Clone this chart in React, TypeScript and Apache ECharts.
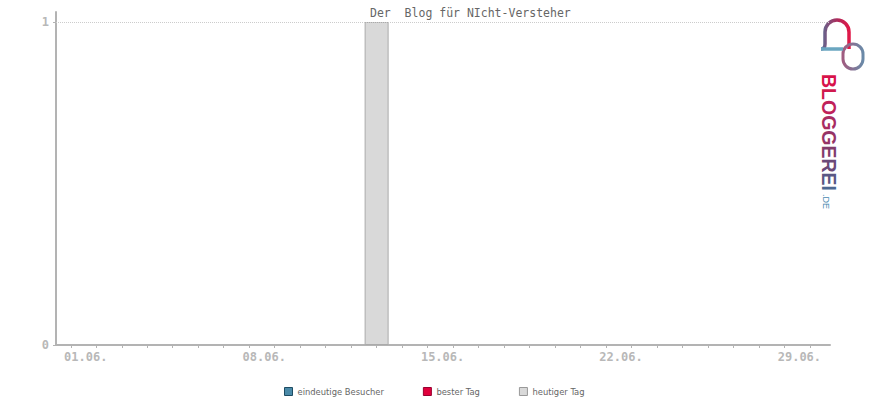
import React, { useEffect, useRef } from "react";
import * as echarts from "echarts";

const days = [
  "01.06.", "02.06.", "03.06.", "04.06.", "05.06.", "06.06.", "07.06.", "08.06.", "09.06.", "10.06.",
  "11.06.", "12.06.", "13.06.", "14.06.", "15.06.", "16.06.", "17.06.", "18.06.", "19.06.", "20.06.",
  "21.06.", "22.06.", "23.06.", "24.06.", "25.06.", "26.06.", "27.06.", "28.06.", "29.06.", "30.06.",
];
const labelDays = ["01.06.", "08.06.", "15.06.", "22.06.", "29.06."];
const visitors = [0, 0, 0, 0, 0, 0, 0, 0, 0, 0, 0, 0, 0, 0, 0, 0, 0, 0, 0, 0, 0, 0, 0, 0, 0, 0, 0, 0, 0, 0];
const bestDays: string[] = [];
const bestValues: number[] = [];
const todayDays = ["13.06."];
const todayValues = [1];
const yTicks = [0, 1];
const seriesNames = ["eindeutige Besucher", "bester Tag", "heutiger Tag"];
const titleText = "Der  Blog für NIcht-Versteher";
const logoLetters = ["B", "L", "O", "G", "G", "E", "R", "E", "I"];
const logoColors = ["#d8124a", "#d01a4e", "#c0225a", "#a82c62", "#963466", "#823c6c", "#6c4a78", "#5a5884", "#4d6890"];

export default function App() {
  const ref = useRef<HTMLDivElement>(null);
  useEffect(() => {
    document.body.style.margin = "0";
    if (!ref.current) return;
    try {
      echarts.graphic.registerShape(
        "bubble",
        echarts.graphic.extendPath(
          "M1 31 Q5 31 5 26 L5 14 A12 12 0 0 1 29 14 L29 31",
          {}
        )
      );
    } catch (e) {}
    const chart = echarts.init(ref.current, null, { renderer: "svg" });
    const mono = "'DejaVu Sans Mono', monospace";
    const logoFont = "bold 19.5px 'Liberation Sans', Arial, sans-serif";
    const cv = document.createElement("canvas").getContext("2d");
    let widths = logoLetters.map(() => 13);
    if (cv) {
      cv.font = logoFont;
      widths = logoLetters.map((l) => cv.measureText(l).width);
    }
    const grad1 = new echarts.graphic.LinearGradient(0, 0, 1, 0, [
      { offset: 0, color: "#5a6c94" },
      { offset: 0.6, color: "#b02a5a" },
      { offset: 1, color: "#e01848" },
    ]);
    const grad2 = new echarts.graphic.LinearGradient(0, 0, 1, 0, [
      { offset: 0, color: "#a05c80" },
      { offset: 1, color: "#6a8aa8" },
    ]);
    let acc = 0;
    const letterEls = logoLetters.map((l, i) => {
      const el = {
        type: "text",
        x: 819,
        y: 74 + acc,
        rotation: -Math.PI / 2,
        style: {
          text: l,
          fill: logoColors[i],
          font: logoFont,
          align: "left",
          verticalAlign: "bottom",
        },
      };
      acc += widths[i];
      return el;
    });
    chart.setOption({
      animation: false,
      title: {
        text: titleText,
        left: 365,
        top: 2,
        textStyle: { fontFamily: mono, fontSize: 11.5, color: "#666", fontWeight: "normal" },
      },
      legend: {
        left: 279,
        top: 382,
        itemWidth: 8,
        itemHeight: 8,
        itemGap: 39,
        icon: "rect",
        selectedMode: false,
        textStyle: { fontFamily: "'DejaVu Sans', sans-serif", fontSize: 8.4, color: "#666" },
        data: [
          { name: seriesNames[0], itemStyle: { color: "#4a8aa8", borderColor: "#1e4c63", borderWidth: 1 } },
          { name: seriesNames[1], itemStyle: { color: "#e0003c", borderColor: "#990030", borderWidth: 1 } },
          { name: seriesNames[2], itemStyle: { color: "#d9d9d9", borderColor: "#999999", borderWidth: 1 } },
        ],
      },
      grid: { left: 56, right: 40, top: 12, bottom: 55, containLabel: false, outerBoundsMode: "none" },
      xAxis: {
        type: "value",
        min: -0.58,
        max: 29.79,
        axisLine: { show: true, onZero: false, lineStyle: { color: "#b3b3b3", width: 2 } },
        axisTick: {
          show: true,
          length: 3,
          customValues: days.map((_, i) => i),
          lineStyle: { color: "#b3b3b3", width: 1 },
        },
        axisLabel: {
          customValues: labelDays.map((d) => days.indexOf(d)),
          formatter: (v: number) => days[Math.round(v)] ?? "",
          fontFamily: mono,
          fontSize: 12,
          fontWeight: "bold",
          color: "#b8b8b8",
          margin: 6,
          padding: [0, 0, 0, 30],
        },
        splitLine: { show: false },
      },
      yAxis: {
        type: "value",
        min: 0,
        max: 1.031,
        axisLine: { show: true, onZero: false, lineStyle: { color: "#b3b3b3", width: 2 } },
        axisTick: { show: true, length: 3, customValues: yTicks, lineStyle: { color: "#b3b3b3" } },
        axisLabel: {
          customValues: yTicks,
          fontFamily: mono,
          fontSize: 12,
          fontWeight: "bold",
          color: "#b8b8b8",
          margin: 7,
          padding: [6, 0, 0, 0],
        },
        splitLine: { show: false },
      },
      series: [
        {
          name: seriesNames[0],
          type: "bar",
          barWidth: 24,
          barGap: "-100%",
          itemStyle: { color: "#4a8aa8" },
          data: visitors.map((v, i) => [i, v]),
        },
        {
          name: seriesNames[1],
          type: "bar",
          barWidth: 24,
          barGap: "-100%",
          itemStyle: { color: "#e0003c" },
          data: bestDays.map((d, i) => [days.indexOf(d), bestValues[i]]),
        },
        {
          name: seriesNames[2],
          type: "bar",
          barWidth: 24,
          barGap: "-100%",
          itemStyle: { color: "#d9d9d9", borderColor: "#aaaaaa", borderWidth: 1 },
          data: todayDays.map((d, i) => [days.indexOf(d), todayValues[i]]),
          markLine: {
            silent: true,
            symbol: "none",
            label: { show: false },
            lineStyle: { color: "#cccccc", type: "dotted", width: 1 },
            data: [{ yAxis: 1 }],
          },
        },
      ],
      graphic: [
        {
          type: "bubble",
          x: 820,
          y: 18,
          style: { fill: "none", stroke: grad1, lineWidth: 3.5 },
        },
        {
          type: "rect",
          x: 843,
          y: 44,
          shape: { x: 0, y: 0, width: 20, height: 25, r: 10 },
          style: { fill: "none", stroke: grad2, lineWidth: 3 },
        },
        {
          type: "line",
          shape: { x1: 821, y1: 49, x2: 843, y2: 49 },
          style: { stroke: "#6aa6c0", lineWidth: 3.5 },
        },
        ...letterEls,
        {
          type: "text",
          x: 821,
          y: 74 + acc + 3,
          rotation: -Math.PI / 2,
          style: {
            text: ".DE",
            fill: "#4a8ab0",
            font: "9px 'Liberation Sans', Arial, sans-serif",
            align: "left",
            verticalAlign: "bottom",
          },
        },
      ],
    });
    return () => chart.dispose();
  }, []);
  return <div ref={ref} style={{ width: 870, height: 400 }} />;
}
